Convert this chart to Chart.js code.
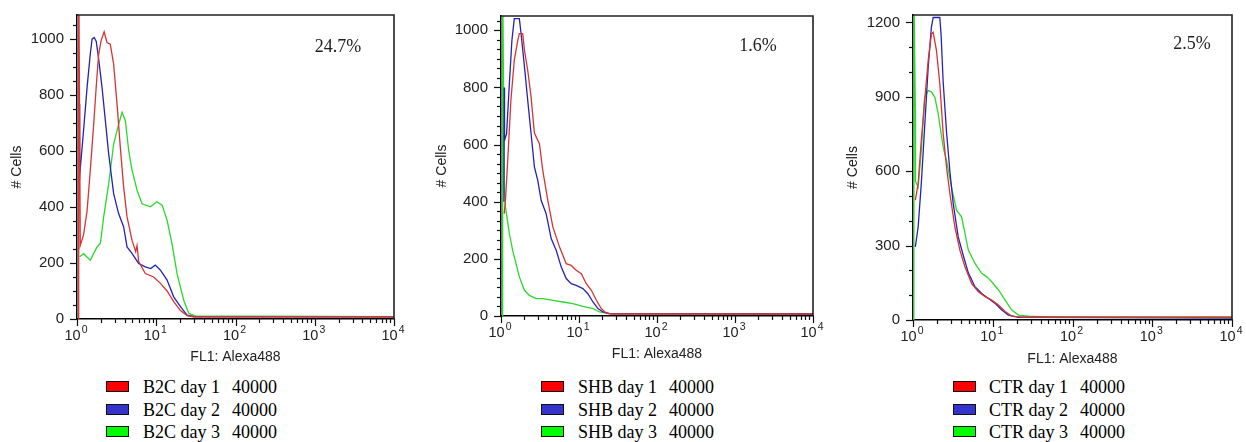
<!DOCTYPE html>
<html><head><meta charset="utf-8">
<script src="https://cdn.jsdelivr.net/npm/chart.js@4"></script>
<style>
html,body{margin:0;padding:0;background:#fff;width:1246px;height:442px;overflow:hidden;position:relative;}
canvas.pc{position:absolute;top:0;}
.pct{position:absolute;font-family:'Liberation Serif','Times New Roman',serif;font-size:18px;color:#222;transform:translate(-50%,-50%);white-space:nowrap;}
.row{position:absolute;white-space:nowrap;height:20px;line-height:20px;font-family:'Liberation Serif','Times New Roman',serif;font-size:18px;color:#000;}
.sw{position:absolute;width:21px;height:9px;border:1.5px solid #111;}
</style></head>
<body>
<canvas id="c1" class="pc" width="410" height="370" style="left:0px"></canvas>
<canvas id="c2" class="pc" width="410" height="370" style="left:420px"></canvas>
<canvas id="c3" class="pc" width="411" height="370" style="left:835px"></canvas>
<div id="extras"></div>
<script>
// ---------- DATA ----------
const xAxisTitle = 'FL1: Alexa488';
const yAxisTitle = '# Cells';
const percentLabels = ['24.7%', '1.6%', '2.5%'];
const legendB2C = ['B2C day 1', 'B2C day 2', 'B2C day 3'];
const legendSHB = ['SHB day 1', 'SHB day 2', 'SHB day 3'];
const legendCTR = ['CTR day 1', 'CTR day 2', 'CTR day 3'];
const eventCounts = [40000, 40000, 40000];
const xTickDecades = [0, 1, 2, 3, 4];

// Panel 1 : B2C
const b2cDay1X = [1.04, 1.05, 1.10, 1.21, 1.34, 1.47, 1.62, 1.75, 1.87, 2.01, 2.2, 2.39, 2.63, 2.90, 3.20, 3.52, 3.88, 4.28, 4.94, 5.5, 5.72, 6.0, 7.28, 9.27, 11.3, 13.7, 16.6, 20.2, 24.5, 29.8, 10000];
const b2cDay1Y = [0, 1300, 263, 300, 385, 530, 690, 830, 940, 992, 1024, 986, 980, 909, 767, 612, 470, 364, 281, 240, 262, 205, 162, 150, 127, 100, 62, 30, 12, 8, 8];
const b2cDay2X = [1.06, 1.07, 1.09, 1.21, 1.34, 1.47, 1.55, 1.65, 1.75, 1.87, 2.07, 2.28, 2.51, 2.90, 3.35, 3.88, 4.28, 4.94, 6.0, 7.28, 8.5, 9.73, 11.3, 13.7, 16.6, 20.2, 24.5, 30, 10000];
const b2cDay2Y = [500, 767, 510, 672, 826, 944, 998, 1004, 990, 930, 826, 707, 589, 447, 376, 328, 257, 234, 198, 186, 180, 192, 174, 139, 79, 44, 14, 8, 8];
const b2cDay3X = [1.08, 1.21, 1.47, 1.79, 1.97, 2.17, 2.51, 2.90, 3.36, 3.70, 4.08, 4.49, 4.95, 5.73, 6.62, 8.44, 10.2, 11.9, 13.7, 15.8, 18.3, 22.2, 25.7, 31.2, 10000];
const b2cDay3Y = [222, 233, 210, 257, 269, 364, 482, 624, 695, 737, 707, 600, 530, 459, 411, 400, 418, 405, 352, 269, 162, 67, 20, 11, 8];

// Panel 2 : SHB
const shbDay1X = [1.10, 1.14, 1.22, 1.34, 1.48, 1.64, 1.72, 1.90, 2.0, 2.20, 2.43, 2.68, 3.11, 3.43, 3.98, 4.62, 5.62, 6.85, 7.94, 9.21, 10.7, 12.4, 14.4, 16.7, 19.3, 22.4, 26, 10000];
const shbDay1Y = [358, 405, 545, 755, 895, 965, 988, 988, 930, 860, 767, 640, 603, 510, 405, 312, 242, 183, 177, 160, 148, 113, 90, 55, 26, 10, 7, 7];
const shbDay2X = [1.09, 1.10, 1.11, 1.18, 1.28, 1.38, 1.48, 1.72, 1.81, 2.0, 2.20, 2.43, 2.68, 2.96, 3.27, 3.79, 4.40, 5.10, 5.91, 6.85, 7.94, 9.21, 11.2, 13.0, 15.1, 17.5, 20.3, 24.7, 10000];
const shbDay2Y = [400, 800, 615, 638, 813, 965, 1041, 1041, 988, 872, 755, 638, 522, 475, 405, 358, 271, 230, 172, 131, 113, 107, 96, 78, 49, 26, 14, 8, 7];
const shbDay3X = [1.045, 1.05, 1.10, 1.14, 1.28, 1.41, 1.56, 1.72, 2.0, 2.31, 2.82, 3.43, 4.62, 6.21, 8.35, 11.2, 15.1, 18.4, 24.7, 10000];
const shbDay3Y = [0, 1200, 460, 382, 288, 230, 183, 137, 90, 72, 61, 61, 55, 49, 43, 34, 26, 14, 8, 7];

// Panel 3 : CTR
const ctrDay1X = [1.07, 1.16, 1.27, 1.40, 1.55, 1.70, 1.79, 1.97, 2.17, 2.39, 2.63, 2.90, 3.35, 3.87, 4.48, 5.44, 6.60, 8.01, 9.71, 11.8, 14.3, 17.3, 23.2, 10000];
const ctrDay1Y = [483, 550, 724, 885, 1046, 1153, 1160, 1086, 952, 751, 617, 510, 375, 282, 215, 147, 114, 94, 80, 60, 34, 16, 11, 11];
const ctrDay2X = [1.07, 1.16, 1.27, 1.40, 1.55, 1.70, 1.79, 2.17, 2.25, 2.39, 2.63, 2.90, 3.19, 3.69, 4.27, 4.94, 5.99, 7.27, 8.82, 10.7, 13.0, 15.7, 21.1, 10000];
const ctrDay2Y = [295, 375, 550, 778, 1019, 1180, 1220, 1220, 1150, 960, 760, 600, 470, 335, 260, 190, 134, 107, 87, 67, 40, 20, 11, 8];
const ctrDay3X = [1.025, 1.03, 1.07, 1.075, 1.16, 1.27, 1.40, 1.55, 1.70, 1.88, 2.07, 2.39, 2.63, 3.04, 3.52, 4.07, 4.94, 5.99, 7.27, 8.40, 9.71, 11.8, 14.3, 17.3, 21.1, 28.2, 45.7, 10000];
const ctrDay3Y = [0, 1300, 845, 560, 536, 684, 898, 925, 920, 898, 831, 697, 644, 536, 442, 416, 282, 228, 188, 174, 154, 121, 80, 40, 20, 16, 13, 12];

// ---------- STYLE / LAYOUT ----------
const lineColors = ['#d83434', '#2424b4', '#2cd82c'];
const swatchColors = ['#ff0000', '#3434cc', '#00ff00'];

const panels = [
  { id:'c1', left:0,   yW:77, padTop:14, padRight:16, xH:51, yMax:1084, major:200, minor:50,     yTitlePad:9,  xTitlePad:4,
    series:[[b2cDay1X,b2cDay1Y],[b2cDay2X,b2cDay2Y],[b2cDay3X,b2cDay3Y]], legend:legendB2C,
    pct:{x:338,y:46}, legBox:106, legText:143 },
  { id:'c2', left:420, yW:81, padTop:16, padRight:17, xH:54, yMax:1050, major:200, minor:200/6,  yTitlePad:14, xTitlePad:7,
    series:[[shbDay1X,shbDay1Y],[shbDay2X,shbDay2Y],[shbDay3X,shbDay3Y]], legend:legendSHB,
    pct:{x:758,y:45}, legBox:541, legText:578 },
  { id:'c3', left:835, yW:78, padTop:15, padRight:14, xH:50, yMax:1230, major:300, minor:100,    yTitlePad:10, xTitlePad:2,
    series:[[ctrDay1X,ctrDay1Y],[ctrDay2X,ctrDay2Y],[ctrDay3X,ctrDay3Y]], legend:legendCTR,
    pct:{x:1192,y:43}, legBox:953, legText:989 }
];
const legendRowTops = [377, 399.5, 422];

const xTickValues = [];
xTickDecades.forEach(d => {
  if (d === 4) { xTickValues.push(10000); return; }
  for (let m = 1; m <= 9; m++) xTickValues.push(m * Math.pow(10, d));
});
function isPow10(v){ const l = Math.log10(v); return Math.abs(l - Math.round(l)) < 1e-9; }
const FAM = "'Liberation Sans', Arial, sans-serif";
const tickFont = {family:FAM, size:15};
const titleFont = {family:FAM, size:14};

const decoPlugin = {
  id:'deco',
  afterDraw(chart){
    const {ctx, chartArea:a, scales:{x,y}} = chart;
    const major = chart.options.plugins.deco.major;
    ctx.save();
    ctx.strokeStyle = '#111'; ctx.lineWidth = 1.2;
    x.ticks.forEach(t => {
      const px = Math.round(x.getPixelForValue(t.value)) + 0.5;
      const len = isPow10(t.value) ? 7 : 4;
      ctx.beginPath(); ctx.moveTo(px, a.bottom); ctx.lineTo(px, a.bottom + len); ctx.stroke();
    });
    y.ticks.forEach(t => {
      const py = Math.round(y.getPixelForValue(t.value)) + 0.5;
      const r = t.value / major;
      const len = Math.abs(r - Math.round(r)) < 1e-6 ? 7 : 4;
      ctx.beginPath(); ctx.moveTo(a.left, py); ctx.lineTo(a.left - len, py); ctx.stroke();
    });
    // x tick labels: 10 with a raised exponent
    ctx.fillStyle = '#222'; ctx.textBaseline = 'alphabetic'; ctx.textAlign = 'left';
    x.ticks.forEach(t => {
      if (!isPow10(t.value)) return;
      const px = x.getPixelForValue(t.value);
      const e = String(Math.round(Math.log10(t.value)));
      ctx.font = '14.5px ' + FAM; const w1 = ctx.measureText('10').width;
      ctx.font = '10.5px ' + FAM; const w2 = ctx.measureText(e).width;
      const start = px - (w1 + 1 + w2) / 2 - 1;
      ctx.font = '14.5px ' + FAM; ctx.fillText('10', start, a.bottom + 20.5);
      ctx.font = '10.5px ' + FAM; ctx.fillText(e, start + w1 + 1, a.bottom + 14);
    });
    ctx.strokeStyle = '#222'; ctx.lineWidth = 1.6;
    ctx.beginPath(); ctx.moveTo(a.left, a.top); ctx.lineTo(a.right, a.top); ctx.lineTo(a.right, a.bottom); ctx.stroke();
    ctx.restore();
  }
};

panels.forEach((p, pi) => {
  const yTicks = [];
  const n = Math.floor(p.yMax / p.minor + 1e-9);
  for (let i = 0; i <= n; i++) yTicks.push(i * p.minor);
  new Chart(document.getElementById(p.id), {
    type:'line',
    data:{ datasets: p.series.map((s, si) => ({
      label: p.legend[si],
      data: s[0].map((xv, i) => ({x: xv, y: s[1][i]})),
      borderColor: lineColors[si], borderWidth: 1.3, pointRadius: 0, fill: false, tension: 0
    }))},
    options:{
      responsive:false, animation:false, devicePixelRatio:1,
      layout:{padding:{left:0, top:p.padTop, right:p.padRight, bottom:0}},
      plugins:{ legend:{display:false}, tooltip:{enabled:false}, deco:{major:p.major} },
      scales:{
        x:{
          type:'logarithmic', min:1, max:10000,
          afterBuildTicks: s => { s.ticks = xTickValues.map(v => ({value:v})); },
          afterFit: s => { s.height = p.xH; },
          ticks:{ display:false, autoSkip:false, maxRotation:0, minRotation:0,
            callback:(v) => isPow10(v) ? '10^' + Math.round(Math.log10(v)) : '' },
          grid:{ display:true, drawOnChartArea:false, drawTicks:true, tickLength:7, tickColor:'rgba(0,0,0,0)' },
          border:{ display:true, color:'#000', width:1.5 },
          title:{ display:true, text:xAxisTitle, color:'#222', font:titleFont, padding:{top:0, bottom:p.xTitlePad} }
        },
        y:{
          type:'linear', min:0, max:p.yMax,
          afterBuildTicks: s => { s.ticks = yTicks.map(v => ({value:v})); },
          afterFit: s => { s.width = p.yW; },
          ticks:{ autoSkip:false, padding:6, color:'#222', font:tickFont,
            callback:(v) => { const r = v / p.major; return Math.abs(r - Math.round(r)) < 1e-6 ? String(Math.round(v)) : ''; } },
          grid:{ display:true, drawOnChartArea:false, drawTicks:true, tickLength:7, tickColor:'rgba(0,0,0,0)' },
          border:{ display:true, color:'#000', width:1.5 },
          title:{ display:true, text:yAxisTitle, color:'#222', font:titleFont, padding:{top:p.yTitlePad, bottom:0} }
        }
      }
    },
    plugins:[decoPlugin]
  });

  // percent + legend as HTML text
  const ex = document.getElementById('extras');
  const pt = document.createElement('div');
  pt.className = 'pct'; pt.style.left = p.pct.x + 'px'; pt.style.top = p.pct.y + 'px';
  pt.textContent = percentLabels[pi];
  ex.appendChild(pt);
  p.legend.forEach((lab, li) => {
    const sw = document.createElement('div');
    sw.className = 'sw'; sw.style.background = swatchColors[li];
    sw.style.left = p.legBox + 'px'; sw.style.top = (legendRowTops[li] + 4) + 'px';
    ex.appendChild(sw);
    const row = document.createElement('div');
    row.className = 'row'; row.style.left = p.legText + 'px'; row.style.top = legendRowTops[li] + 'px';
    const a = document.createElement('span'); a.textContent = lab;
    const b = document.createElement('span'); b.textContent = String(eventCounts[li]); b.style.marginLeft = '12px';
    row.appendChild(a); row.appendChild(b);
    ex.appendChild(row);
  });
});
</script>
</body></html>
